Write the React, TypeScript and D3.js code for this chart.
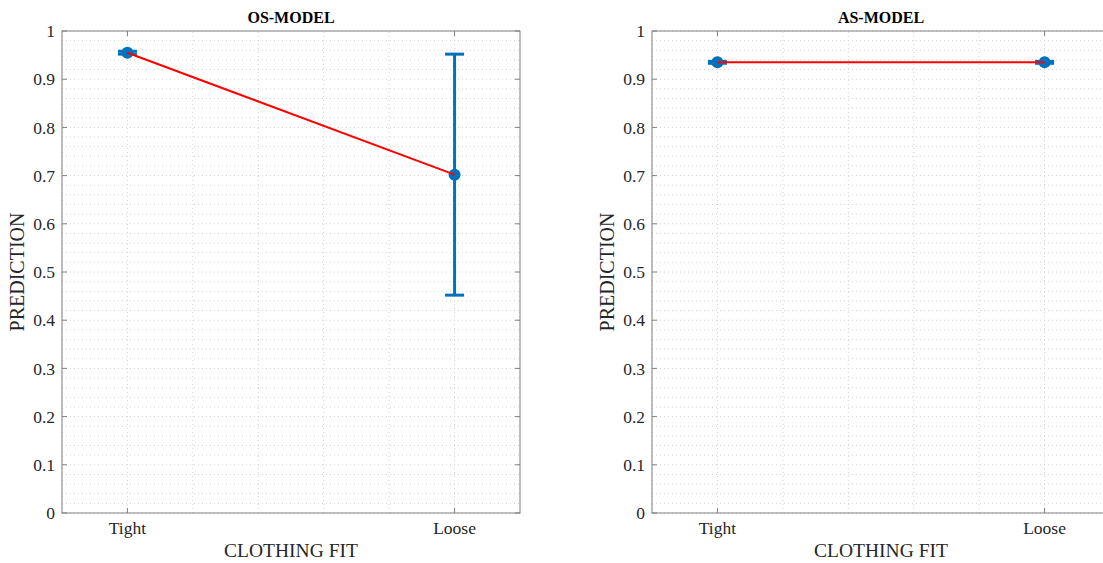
import React from "react";
import * as d3 from "d3";

const categories = ["Tight", "Loose"];
const categoryPos = [1, 2];
const osValues = [0.955, 0.702];
const osErrors = [0.003, 0.25];
const asValues = [0.935, 0.935];
const asErrors = [0.002, 0.002];
const yTicks = [0, 0.1, 0.2, 0.3, 0.4, 0.5, 0.6, 0.7, 0.8, 0.9, 1];
const titles = ["OS-MODEL", "AS-MODEL"];

const W = 1103;
const H = 563;
const FONT = "'Liberation Serif', 'Times New Roman', serif";
const BLUE = "#0072BD";
const AXIS = "#808080";
const TEXT = "#262626";

function Panel({ left, title, values, errors }: { left: number; title: string; values: number[]; errors: number[] }) {
  const x = d3.scaleLinear().domain([0.8, 2.2]).range([left, left + 458]);
  const y = d3.scaleLinear().domain([0, 1]).range([513, 31]);
  const [x0, x1] = x.range();
  const [y0, y1] = y.range();
  const minorY = d3.range(0, 1.0001, 0.02);
  const minorX = d3.range(0.8, 2.2001, 0.2);
  const line = d3
    .line<number>()
    .x((_, i) => x(categoryPos[i]))
    .y((d) => y(d));
  const cap = 9.5;
  return (
    <g>
      {minorY.map((v, i) => (
        <line key={"gy" + i} x1={x0} x2={x1} y1={y(v)} y2={y(v)} stroke="#d4d4d4" strokeWidth={1} strokeDasharray="1,3" />
      ))}
      {minorX.map((v, i) => (
        <line key={"gx" + i} x1={x(v)} x2={x(v)} y1={y0} y2={y1} stroke="#d4d4d4" strokeWidth={1} strokeDasharray="1,3" />
      ))}
      <rect x={x0} y={y1} width={x1 - x0} height={y0 - y1} fill="none" stroke={AXIS} strokeWidth={1} />
      {yTicks.map((t) => (
        <g key={"yt" + t}>
          <line x1={x0} x2={x0 + 5} y1={y(t)} y2={y(t)} stroke={AXIS} />
          <line x1={x1 - 5} x2={x1} y1={y(t)} y2={y(t)} stroke={AXIS} />
          <text x={x0 - 7} y={y(t)} dy="0.35em" textAnchor="end" fontFamily={FONT} fontSize={17.5} fill={TEXT}>
            {String(t)}
          </text>
        </g>
      ))}
      {categories.map((c, i) => (
        <g key={"xt" + c}>
          <line x1={x(categoryPos[i])} x2={x(categoryPos[i])} y1={y0} y2={y0 - 5} stroke={AXIS} />
          <line x1={x(categoryPos[i])} x2={x(categoryPos[i])} y1={y1} y2={y1 + 5} stroke={AXIS} />
          <text x={x(categoryPos[i])} y={y0 + 21} textAnchor="middle" fontFamily={FONT} fontSize={17.5} fill={TEXT}>
            {c}
          </text>
        </g>
      ))}
      <text x={(x0 + x1) / 2} y={557} textAnchor="middle" fontFamily={FONT} fontSize={19.5} fill={TEXT}>
        CLOTHING FIT
      </text>
      <text
        transform={`translate(${left - 38},${(y0 + y1) / 2}) rotate(-90)`}
        textAnchor="middle"
        fontFamily={FONT}
        fontSize={20}
        fill={TEXT}
      >
        PREDICTION
      </text>
      <text x={(x0 + x1) / 2} y={23} textAnchor="middle" fontFamily={FONT} fontSize={16} fontWeight="bold" fill="#000">
        {title}
      </text>
      {values.map((v, i) => {
        const cx = x(categoryPos[i]);
        return (
          <g key={"eb" + i}>
            <line x1={cx} x2={cx} y1={y(v - errors[i])} y2={y(v + errors[i])} stroke={BLUE} strokeWidth={3} />
            <line x1={cx - cap} x2={cx + cap} y1={y(v - errors[i])} y2={y(v - errors[i])} stroke={BLUE} strokeWidth={3} />
            <line x1={cx - cap} x2={cx + cap} y1={y(v + errors[i])} y2={y(v + errors[i])} stroke={BLUE} strokeWidth={3} />
            <circle cx={cx} cy={y(v)} r={6} fill={BLUE} />
          </g>
        );
      })}
      <path d={line(values) || ""} fill="none" stroke="#FF0000" strokeWidth={2} />
    </g>
  );
}

export default function App() {
  return (
    <svg width={W} height={H} style={{ position: "absolute", left: 0, top: 0, background: "#fff" }}>
      <rect width={W} height={H} fill="#fff" />
      <Panel left={62} title={titles[0]} values={osValues} errors={osErrors} />
      <Panel left={652} title={titles[1]} values={asValues} errors={asErrors} />
    </svg>
  );
}
